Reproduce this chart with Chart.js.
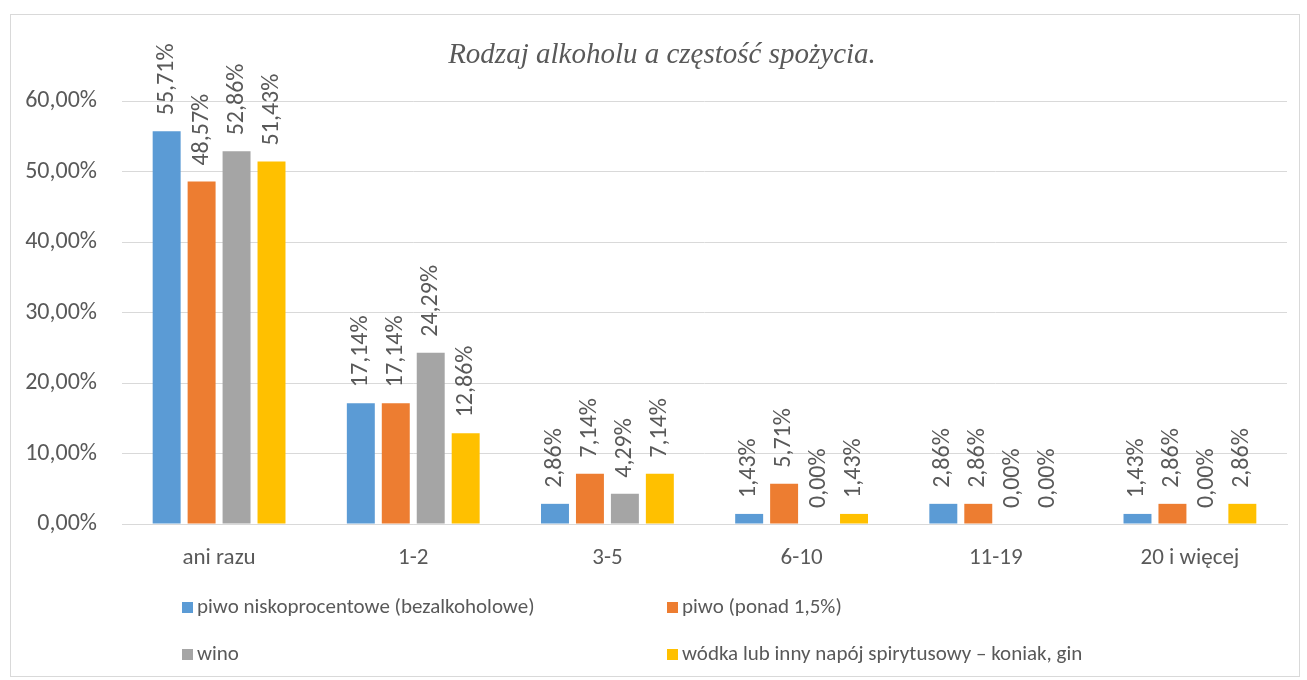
<!DOCTYPE html>
<html>
<head>
<meta charset="utf-8">
<script src="https://cdn.jsdelivr.net/npm/chart.js@4"></script>
<style>
  html, body { margin: 0; padding: 0; background: #fff; }
  #wrap { width: 1307px; height: 680px; position: relative; }
</style>
</head>
<body>
<div id="wrap"><canvas id="chart"></canvas></div>
<script>
const categories = ['ani razu', '1-2', '3-5', '6-10', '11-19', '20 i więcej']
const seriesNames = [
    'piwo niskoprocentowe (bezalkoholowe)',
    'piwo (ponad 1,5%)',
    'wino',
    'wódka lub inny napój spirytusowy – koniak, gin'
]
const piwoNisko = [55.71, 17.14, 2.86, 1.43, 2.86, 1.43]
const piwo = [48.57, 17.14, 7.14, 5.71, 2.86, 2.86]
const wino = [52.86, 24.29, 4.29, 0, 0, 0]
const wodka = [51.43, 12.86, 7.14, 1.43, 0, 2.86]
const yTicks = [0, 10, 20, 30, 40, 50, 60]

const colors = ['#5b9bd5', '#ed7d31', '#a5a5a5', '#ffc000']
const FONT = 'Carlito, Calibri, Lato, "Liberation Sans", sans-serif'
const TEXT = '#595959'
const NUM_SIZE = 24
const CAT_SIZE = 23
const LEG_SIZE = 21

const fmt = v => v.toFixed(2).replace('.', ',') + '%'

// border, title, rotated value labels and the two-column legend
const extras = {
    id: 'extras',
    beforeDraw(chart) {
        const ctx = chart.ctx
        ctx.save()
        ctx.strokeStyle = '#d9d9d9'
        ctx.lineWidth = 1
        ctx.strokeRect(10.5, 14.5, 1289, 662)
        ctx.restore()
    },
    afterDatasetsDraw(chart) {
        const ctx = chart.ctx
        ctx.save()
        ctx.font = NUM_SIZE + 'px ' + FONT
        ctx.fillStyle = TEXT
        ctx.textAlign = 'left'
        ctx.textBaseline = 'middle'
        chart.data.datasets.forEach((ds, i) => {
            chart.getDatasetMeta(i).data.forEach((bar, j) => {
                ctx.save()
                ctx.translate(bar.x, bar.y - 16)
                ctx.rotate(-Math.PI / 2)
                ctx.fillText(fmt(ds.data[j]), 0, 0)
                ctx.restore()
            })
        })

        // title
        ctx.font = 'italic 29px "Liberation Serif", "Times New Roman", serif'
        ctx.textAlign = 'center'
        ctx.fillText('Rodzaj alkoholu a częstość spożycia.', 662, 55)

        // legend
        ctx.font = LEG_SIZE + 'px ' + FONT
        ctx.textAlign = 'left'
        const pos = [[182, 608], [667, 608], [182, 655], [667, 655]]
        chart.data.datasets.forEach((ds, i) => {
            const [x, y] = pos[i]
            ctx.fillStyle = ds.backgroundColor
            ctx.fillRect(x, y - 6, 11, 11)
            ctx.fillStyle = TEXT
            ctx.fillText(ds.label, x + 15, y)
        })
        ctx.restore()
    }
}

const seriesValues = [piwoNisko, piwo, wino, wodka]

new Chart(document.getElementById('chart'), {
    type: 'bar',
    data: {
        labels: categories,
        datasets: seriesValues.map((vals, i) => ({
            label: seriesNames[i],
            data: vals,
            backgroundColor: colors[i],
            categoryPercentage: 0.72,
            barPercentage: 0.8
        }))
    },
    options: {
        responsive: true,
        maintainAspectRatio: false,
        animation: false,
        layout: {
            padding: { left: 20, right: 20, top: 101, bottom: 106 }
        },
        plugins: {
            legend: { display: false },
            tooltip: { enabled: false },
            title: { display: false }
        },
        scales: {
            x: {
                grid: { display: false, drawTicks: false },
                border: { color: '#d9d9d9' },
                ticks: { color: TEXT, font: { family: FONT, size: CAT_SIZE }, padding: 20, maxRotation: 0 },
                afterFit: s => { s.height = 50 }
            },
            y: {
                min: 0,
                max: 60,
                afterBuildTicks: s => { s.ticks = yTicks.map(v => ({ value: v })) },
                grid: { color: '#d9d9d9', drawTicks: false },
                border: { display: false },
                ticks: {
                    color: TEXT,
                    font: { family: FONT, size: NUM_SIZE },
                    padding: 25,
                    callback: v => v.toFixed(2).replace('.', ',') + '%'
                },
                afterFit: s => { s.width = 102 }
            }
        }
    },
    plugins: [extras]
})
</script>
</body>
</html>
